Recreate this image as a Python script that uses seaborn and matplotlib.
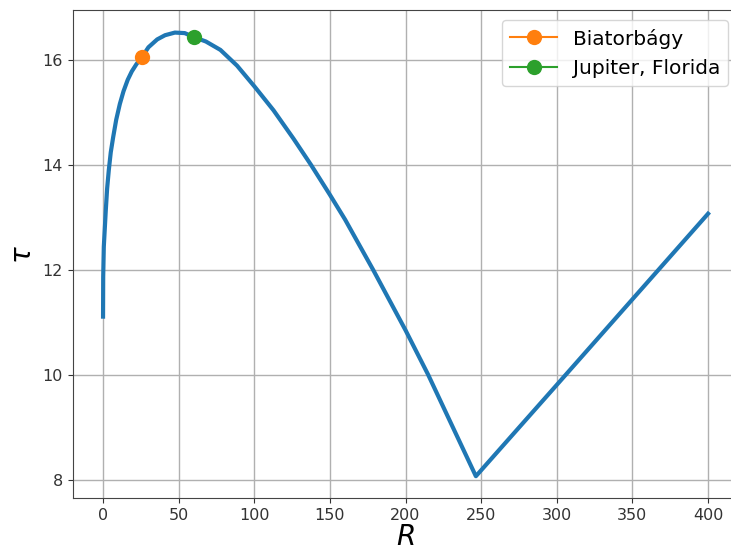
import matplotlib
matplotlib.use('Agg')
import matplotlib.pyplot as plt
import pandas as pd
import seaborn as sns

# Curve
R_VALUES = [0, 0.1, 0.5, 1.8, 2.7, 3.8, 5.1, 6.7, 8.7, 11.1, 13.5, 16.3, 19, 22.1, 25.9,
            30, 35.8, 41, 47.5, 54, 60.4, 68, 77.6, 88.6, 100.5, 112.7, 125.9, 137.5,
            150, 160, 178.6, 200, 215, 230, 246.5, 300, 350, 400]
TAU_VALUES = [11.11, 11.87, 12.44, 13.13, 13.55, 13.9, 14.24, 14.53, 14.86, 15.16, 15.40,
              15.62, 15.78, 15.92, 16.06, 16.24, 16.39, 16.47, 16.52, 16.51, 16.43, 16.35,
              16.19, 15.89, 15.48, 15.04, 14.50, 14.0, 13.43, 12.96, 12.0, 10.85, 10.0,
              9.08, 8.07, 9.81, 11.44, 13.07]

# Highlighted places
PLACES = ['Biatorbágy', 'Jupiter, Florida']
PLACE_R = [25.9, 60.4]
PLACE_TAU = [16.06, 16.43]
PLACE_COLORS = ['tab:orange', 'tab:green']

curve = pd.DataFrame({'R': R_VALUES, 'tau': TAU_VALUES})

fig = plt.figure(figsize=(7.31, 5.51), dpi=100)
ax = fig.add_axes([72.8 / 731, (551 - 498.4) / 551, 665.5 / 731, 488 / 551])

sns.lineplot(data=curve, x='R', y='tau', sort=False, estimator=None,
             color='tab:blue', linewidth=3, ax=ax)

for name, r, t, c in zip(PLACES, PLACE_R, PLACE_TAU, PLACE_COLORS):
    sns.lineplot(x=[r], y=[t], marker='o', markersize=11, markeredgewidth=0,
                 color=c, label=name, ax=ax)

ax.grid(True, color='#b0b0b0', linewidth=1)
ax.set_axisbelow(True)
ax.tick_params(labelsize=11.5, labelcolor='#333333', color='#333333')
for s in ax.spines.values():
    s.set_color('#444444')
ax.set_xlabel('$R$', fontsize=20, labelpad=0)
ax.set_ylabel(r'$\tau$', fontsize=20)
ax.legend(loc='upper right', fontsize=14.5, handlelength=2.3)

fig.savefig('out.png', dpi=100)
